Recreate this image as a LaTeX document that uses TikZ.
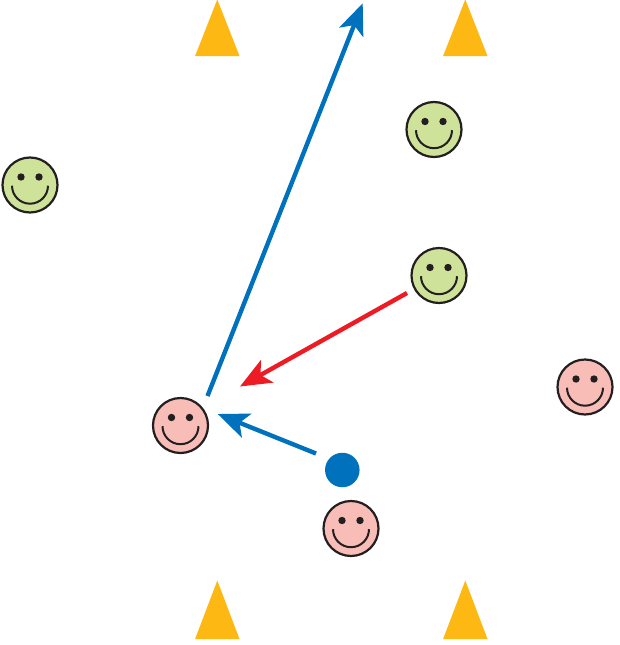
\documentclass[tikz,border=0pt]{standalone}
\usetikzlibrary{arrows.meta}
\definecolor{cone}{HTML}{FDB813}
\definecolor{flowblue}{HTML}{0071BC}
\definecolor{flowred}{HTML}{ED1C24}
\definecolor{facepink}{HTML}{F9BDB8}
\definecolor{facegreen}{HTML}{CFE29A}
\definecolor{ink}{HTML}{231F20}
\tikzset{
  smiley/.style={circle,draw=ink,line width=2.2pt,minimum size=55pt,inner sep=0pt,
    path picture={
      \fill[ink] ([shift={(-9pt,8pt)}]path picture bounding box.center) circle (3.7pt);
      \fill[ink] ([shift={(9pt,8pt)}]path picture bounding box.center) circle (3.7pt);
      \draw[ink,line width=2pt] ([shift={(-18pt,-0.7pt)}]path picture bounding box.center) arc[start angle=180,end angle=360,radius=18pt];
    }},
  pinkface/.style={smiley,fill=facepink},
  greenface/.style={smiley,fill=facegreen},
  conemark/.style={fill=cone,draw=none},
  flow/.style={line width=4.4pt,-{Stealth[length=31pt,width=25.5pt,inset=7.5pt]}},
}
\begin{document}
\begin{tikzpicture}[x=1pt,y=-1pt]
\useasboundingbox (0,0) rectangle (619,645);
\fill[conemark] (217.3,-0.5) -- (239.5,56) -- (195.1,56) -- cycle;
\fill[conemark] (465.3,-0.5) -- (487.5,56) -- (443.1,56) -- cycle;
\fill[conemark] (217.3,580.5) -- (239.5,639) -- (195.1,639) -- cycle;
\fill[conemark] (465.3,580.5) -- (487.5,639) -- (443.1,639) -- cycle;
\node[greenface] (g1) at (434,129.5) {};
\node[greenface] (g2) at (30,185) {};
\node[greenface] (g3) at (439,275.5) {};
\node[pinkface] (p1) at (180.5,425.5) {};
\node[pinkface] (p2) at (585,387) {};
\node[pinkface] (p3) at (351,528.5) {};
\node[circle,fill=flowblue,minimum size=34.5pt,inner sep=0pt] (ball) at (342.3,470) {};
\coordinate (a1s) at (207.5,396);
\coordinate (a1e) at (362.7,3.3);
\coordinate (a2s) at (316,453.5);
\coordinate (a2e) at (217.7,414);
\coordinate (a3s) at (407,293);
\coordinate (a3e) at (240,386.5);
\draw[flow,flowblue] (a1s) -- (a1e);
\draw[flow,flowblue] (a2s) -- (a2e);
\draw[flow,flowred] (a3s) -- (a3e);
\end{tikzpicture}
\end{document}
